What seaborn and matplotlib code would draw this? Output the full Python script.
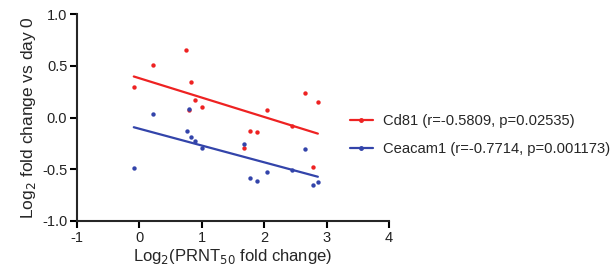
import numpy as np
import pandas as pd
import matplotlib
matplotlib.use("Agg")
import matplotlib.pyplot as plt
import seaborn as sns
from matplotlib.lines import Line2D

x_vals = [-0.09, 0.22, 0.75, 0.83, 0.80, 0.89, 1.01, 1.67, 1.78, 1.88, 2.04, 2.45, 2.66, 2.78, 2.86]
cd81 = [0.295, 0.51, 0.65, 0.34, 0.07, 0.17, 0.10, -0.29, -0.13, -0.14, 0.07, -0.08, 0.24, -0.48, 0.15]
x_vals_b = [-0.09, 0.22, 0.76, 0.80, 0.83, 0.89, 1.01, 1.67, 1.78, 1.88, 2.04, 2.45, 2.66, 2.78, 2.86]
ceacam1 = [-0.49, 0.03, -0.13, 0.08, -0.19, -0.23, -0.29, -0.26, -0.58, -0.61, -0.53, -0.51, -0.30, -0.655, -0.62]
labels = ["Cd81 (r=-0.5809, p=0.02535)", "Ceacam1 (r=-0.7714, p=0.001173)"]
colors = ["#ee2222", "#3344aa"]

sns.set_style("ticks")
plt.rcParams['font.family'] = ['Liberation Sans', 'DejaVu Sans']
plt.rcParams['axes.unicode_minus'] = False

fig = plt.figure(figsize=(6.16, 2.76), dpi=100)
ax = fig.add_axes([77/616, 1-221/276, (389-77)/616, (221-14)/276])

for xs, ys, c in [(x_vals, cd81, colors[0]), (x_vals_b, ceacam1, colors[1])]:
    df = pd.DataFrame({"x": xs, "y": ys})
    sns.regplot(data=df, x="x", y="y", ax=ax, ci=None, truncate=True, color=c,
                scatter_kws={"s": 10, "linewidths": 0, "alpha": 1},
                line_kws={"linewidth": 1.6})

ax.set_xlim(-1, 4)
ax.set_ylim(-1, 1)
ax.set_xticks([-1, 0, 1, 2, 3, 4])
ax.set_yticks([-1.0, -0.5, 0.0, 0.5, 1.0])
ax.set_yticklabels(["-1.0", "-0.5", "0.0", "0.5", "1.0"])
for s in ["top", "right"]:
    ax.spines[s].set_visible(False)
for s in ["left", "bottom"]:
    ax.spines[s].set_linewidth(1.5)
ax.tick_params(axis="both", width=1.5, length=5, labelsize=10.5, color="black", labelcolor="#222222", pad=2)
ax.set_xlabel("Log$_2$(PRNT$_{50}$ fold change)", fontsize=12, labelpad=2)
ax.set_ylabel("Log$_2$ fold change vs day 0", fontsize=12.5, labelpad=3)

handles = [Line2D([0], [0], color=c, lw=1.6, marker="o", markersize=2.5) for c in colors]
fig.legend(handles, labels, loc="upper left", bbox_to_anchor=(347/616, 1-111/276),
           borderaxespad=0, borderpad=0.2,
           frameon=False, fontsize=10.6, handlelength=1.55, labelspacing=0.95, handletextpad=0.7)

fig.savefig("out.png", dpi=100)
